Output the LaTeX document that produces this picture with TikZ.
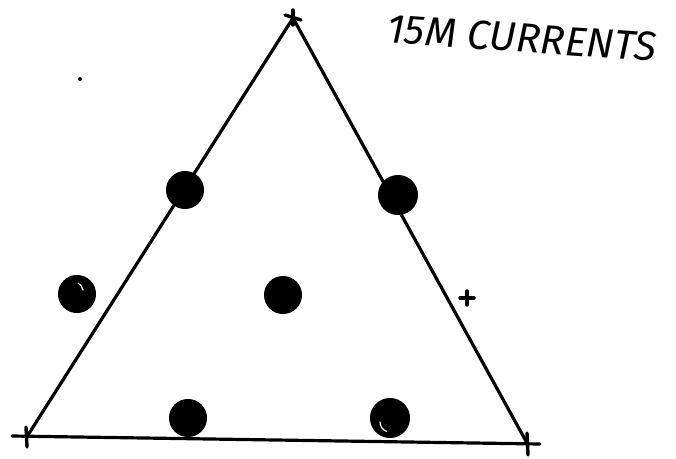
\documentclass[tikz,border=0pt]{standalone}
\usepackage{fontspec}
\newfontfamily\handfont{Fira Sans}
\begin{document}
\begin{tikzpicture}[x=1pt,y=-1pt,
  edge/.style={line width=3.2pt,line cap=round,black},
  blob/.style={circle,fill=black,draw=black,line width=1pt,inner sep=0pt,minimum size=37pt},
  tick/.style={line width=3.4pt,line cap=round},
  shine/.style={white,line width=1.2pt,line cap=round}]
\useasboundingbox (0,0) rectangle (676,458);
% vertices
\coordinate (top) at (293,18);
\coordinate (bl) at (28,435);
\coordinate (br) at (527,443);
\coordinate (bstart) at (12,436);
\coordinate (bend) at (540,444);
% sides
\draw[edge] (top) -- (bl);
\draw[edge] (top) -- (br);
\draw[edge] (bstart) -- (bend);
% crosses at vertices
\draw[tick] (285,15) -- (301,20);
\draw[tick] (293,10) -- (293,25);
\draw[tick] (26,427) -- (27,447);
\draw[tick] (527,433) -- (528,455);
% free cross
\coordinate (plus) at (467,298);
\draw[tick] ([xshift=-7pt]plus) -- ([xshift=7pt]plus);
\draw[tick] ([yshift=-7pt]plus) -- ([yshift=7pt]plus);
% dots
\node[blob] (d1) at (185,190) {};
\node[blob,minimum size=39pt] (d2) at (398,195) {};
\node[blob] (d3) at (77,294) {};
\node[blob] (d4) at (283,295) {};
\node[blob] (d5) at (188,418) {};
\node[blob,minimum size=39pt] (d6) at (390,418) {};
\draw[shine] ([shift={(6pt,4pt)}]d3.center) arc[start angle=10,end angle=60,radius=10pt];
\draw[shine] ([shift={(0pt,-4pt)}]d6.center) ++(-10pt,0) arc[start angle=180,end angle=250,radius=10pt];
% stray mark
\fill (80,79) circle (2pt);
% title
\node[font=\handfont\itshape\fontsize{41}{41}\selectfont,rotate=-4,anchor=center,inner sep=0pt] (title) at (522,38) {15M CURRENTS};
\end{tikzpicture}
\end{document}
